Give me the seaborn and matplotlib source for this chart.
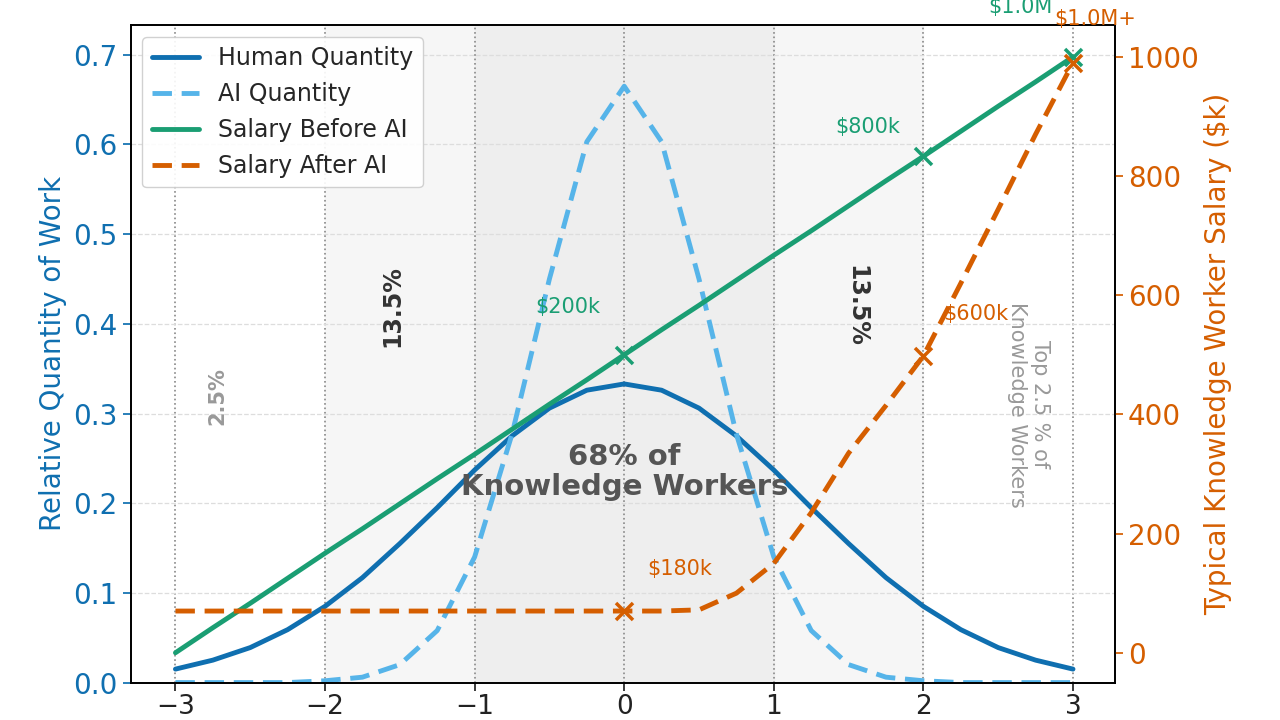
import matplotlib
matplotlib.use("Agg")
import matplotlib.pyplot as plt
import seaborn as sns
import pandas as pd

x_vals = [-3, -2.75, -2.5, -2.25, -2, -1.75, -1.5, -1.25, -1, -0.75, -0.5, -0.25, 0,
          0.25, 0.5, 0.75, 1, 1.25, 1.5, 1.75, 2, 2.25, 2.5, 2.75, 3]
human_qty = [0.015, 0.025, 0.039, 0.059, 0.085, 0.117, 0.155, 0.195, 0.237, 0.275, 0.306, 0.326, 0.333,
             0.326, 0.306, 0.275, 0.237, 0.195, 0.155, 0.117, 0.085, 0.059, 0.039, 0.025, 0.015]
ai_qty = [0.0, 0.0, 0.0, 0.0, 0.002, 0.006, 0.020, 0.058, 0.140, 0.277, 0.450, 0.603, 0.665,
          0.603, 0.450, 0.277, 0.140, 0.058, 0.020, 0.006, 0.002, 0.0, 0.0, 0.0, 0.0]
sal_before = [0, 42, 83, 125, 167, 208, 250, 292, 333, 375, 417, 458, 500,
              542, 583, 625, 667, 708, 750, 792, 833, 875, 917, 958, 1000]
sal_after = [70, 70, 70, 70, 70, 70, 70, 70, 70, 70, 70, 70, 70,
             70, 72, 100, 150, 235, 335, 415, 498, 620, 744, 870, 990]
marker_x = [0, 2, 3]
before_marks = [500, 833, 1000]
after_marks = [70, 498, 990]

C_H, C_AI, C_B, C_A = "#0f6fb0", "#56b4e9", "#1a9e73", "#d55e00"

sns.set_theme(style="white")
plt.rcParams["font.family"] = ["DejaVu Sans"]
fig = plt.figure(figsize=(12.8, 7.2), dpi=100)
ax = fig.add_axes([0.102, 0.052, 0.769, 0.913])
ax2 = ax.twinx()

df = pd.DataFrame({"x": x_vals, "h": human_qty, "ai": ai_qty, "b": sal_before, "a": sal_after})

ax.axvspan(-2, -1, color="#f6f6f6", zorder=0)
ax.axvspan(1, 2, color="#f6f6f6", zorder=0)
ax.axvspan(-1, 1, color="#eeeeee", zorder=0)
for v in range(-3, 4):
    ax.axvline(v, color="#888888", ls=":", lw=1.2, zorder=1)
for yv in [0.1, 0.2, 0.3, 0.4, 0.5, 0.6, 0.7]:
    ax.axhline(yv, color="#dddddd", ls="--", lw=0.9, zorder=1)

sns.lineplot(data=df, x="x", y="h", ax=ax, color=C_H, lw=3.5, label="Human Quantity")
sns.lineplot(data=df, x="x", y="ai", ax=ax, color=C_AI, lw=3.5, ls=(0, (4, 2)), label="AI Quantity")
sns.lineplot(data=df, x="x", y="b", ax=ax2, color=C_B, lw=3.5, label="Salary Before AI")
sns.lineplot(data=df, x="x", y="a", ax=ax2, color=C_A, lw=3.5, ls=(0, (4, 2)), label="Salary After AI")
sns.scatterplot(x=marker_x, y=before_marks, ax=ax2, color=C_B, marker="x", s=150, linewidth=2.5, zorder=5)
sns.scatterplot(x=marker_x, y=after_marks, ax=ax2, color=C_A, marker="x", s=150, linewidth=2.5, zorder=5)

ax.set_xlim(-3.3, 3.28)
ax.set_ylim(0, 0.733)
ax2.set_ylim(-50, 1053)
ax.set_xticks(range(-3, 4))
ax.set_xticklabels(["\u22123", "\u22122", "\u22121", "0", "1", "2", "3"])
ax.set_yticks([0, 0.1, 0.2, 0.3, 0.4, 0.5, 0.6, 0.7])
ax2.set_yticks([0, 200, 400, 600, 800, 1000])
ax.set_xlabel("")
ax.set_ylabel("Relative Quantity of Work", color=C_H, fontsize=20)
ax2.set_ylabel("Typical Knowledge Worker Salary ($k)", color=C_A, fontsize=20)
ax.tick_params(axis="y", colors=C_H, labelsize=20, length=6, left=True)
ax.tick_params(axis="x", labelsize=19, length=6, bottom=True, colors="#222222", pad=2)
ax2.tick_params(axis="y", colors=C_A, labelsize=20, length=6, right=True)
for s in list(ax.spines.values()) + list(ax2.spines.values()):
    s.set_color("black")

if ax.get_legend():
    ax.get_legend().remove()
h1, l1 = ax.get_legend_handles_labels()
h2, l2 = ax2.get_legend_handles_labels()
ax2.legend(h1 + h2, l1 + l2, loc="upper left", fontsize=17, framealpha=0.9, edgecolor="#cccccc")

ax.text(-2.72, 0.32, "2.5%", rotation=90, color="#999999", fontsize=15, fontweight="bold", ha="center", va="center")
ax.text(-1.55, 0.42, "13.5%", rotation=90, color="#333333", fontsize=17, fontweight="bold", ha="center", va="center")
ax.text(1.55, 0.42, "13.5%", rotation=-90, color="#333333", fontsize=17, fontweight="bold", ha="center", va="center")
ax.text(2.7, 0.31, "Top 2.5 % of\nKnowledge Workers", rotation=-90, color="#999999", fontsize=15, ha="center", va="center")
ax.text(0, 0.235, "68% of\nKnowledge Workers", color="#555555", fontsize=21, fontweight="bold", ha="center", va="center", linespacing=1.1)
ax2.text(2.65, 1083, "$1.0M", color=C_B, fontsize=15, ha="center", va="center")
ax2.text(3.15, 1063, "$1.0M+", color=C_A, fontsize=15, ha="center", va="center")
ax2.text(1.63, 882, "$800k", color=C_B, fontsize=15, ha="center", va="center")
ax2.text(-0.38, 580, "$200k", color=C_B, fontsize=15, ha="center", va="center")
ax2.text(2.35, 568, "$600k", color=C_A, fontsize=15, ha="center", va="center")
ax2.text(0.37, 140, "$180k", color=C_A, fontsize=15, ha="center", va="center")

fig.savefig("out.png", dpi=100)
